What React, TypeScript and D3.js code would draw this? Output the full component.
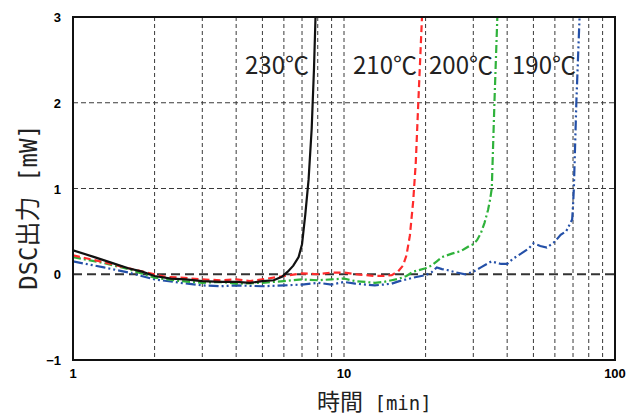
import { useEffect, useRef } from "react";
import * as d3 from "d3";

// time [min] / DSC output [mW]
const t230 = [1, 1.2, 1.4, 1.6, 1.8, 2, 2.3, 2.6, 3, 3.5, 4, 4.5, 5, 5.5, 5.9, 6.2, 6.5, 6.8, 7.0, 7.2, 7.4, 7.6, 7.75, 7.85];
const v230 = [0.28, 0.2, 0.13, 0.07, 0.03, -0.02, -0.05, -0.06, -0.08, -0.09, -0.09, -0.1, -0.08, -0.07, -0.03, 0.03, 0.1, 0.2, 0.35, 0.7, 1.1, 1.7, 2.4, 3.0];

const t210 = [1, 1.3, 1.6, 2, 2.2, 2.5, 3, 3.5, 4, 4.5, 5, 6, 7, 8, 9, 10, 11, 12, 13, 14, 15, 15.8, 16.5, 17, 17.5, 18, 18.4, 18.8, 19.1, 19.4];
const v210 = [0.22, 0.14, 0.07, 0.0, -0.03, -0.04, -0.06, -0.07, -0.06, -0.08, -0.06, -0.02, 0.01, 0.0, 0.02, 0.02, 0.0, -0.01, -0.02, -0.02, -0.01, 0.03, 0.1, 0.22, 0.45, 0.85, 1.3, 2.0, 2.5, 3.0];

const t200 = [1, 1.3, 1.6, 2, 2.5, 3, 3.5, 4, 5, 6, 7, 8, 9, 10, 11, 12, 13, 14, 15, 16, 17, 18, 20, 21, 22, 23, 25, 27, 28, 29, 30, 31, 32, 33, 34, 34.6, 35.1, 35.9, 36.8];
const v200 = [0.2, 0.13, 0.06, -0.04, -0.08, -0.1, -0.09, -0.11, -0.1, -0.08, -0.06, -0.07, -0.06, -0.05, -0.08, -0.09, -0.1, -0.09, -0.07, -0.05, -0.02, 0.03, 0.07, 0.1, 0.15, 0.2, 0.24, 0.27, 0.3, 0.33, 0.35, 0.4, 0.48, 0.6, 0.75, 0.87, 1.0, 2.0, 3.0];

const t190 = [1, 1.3, 1.6, 2, 2.5, 3, 3.5, 4, 5, 6, 7, 8, 9, 10, 11, 12, 13, 14, 15, 16, 17, 18, 20, 21, 22, 23, 24, 26, 28, 30, 32, 35, 38, 40, 42, 45, 48, 50, 53, 56, 60, 63, 66, 68, 69.5, 70, 70.5, 72, 74];
const v190 = [0.15, 0.08, 0.02, -0.06, -0.1, -0.13, -0.14, -0.13, -0.14, -0.13, -0.12, -0.1, -0.12, -0.09, -0.11, -0.12, -0.13, -0.12, -0.11, -0.08, -0.06, -0.04, -0.01, 0.02, 0.08, 0.06, 0.05, 0.02, 0.0, 0.03, 0.08, 0.15, 0.12, 0.12, 0.18, 0.24, 0.3, 0.36, 0.33, 0.31, 0.38, 0.46, 0.5, 0.58, 0.64, 0.8, 1.0, 2.0, 3.0];

const labels = ["230℃", "210℃", "200℃", "190℃"];
const labelX = [245, 353, 429, 512];

const minorTicks = [2, 3, 4, 5, 6, 7, 8, 9, 10, 20, 30, 40, 50, 60, 70, 80, 90];
const yTicks = [-1, 0, 1, 2, 3];
const xTicks = [1, 10, 100];

const App = () => {
  const ref = useRef<SVGSVGElement>(null);

  useEffect(() => {
    const svg = d3.select(ref.current);
    svg.selectAll("*").remove();

    const left = 73, right = 615, top = 17, bottom = 360;
    const x = d3.scaleLog().domain([1, 100]).range([left, right]);
    const y = d3.scaleLinear().domain([-1, 3]).range([bottom, top]);

    svg
      .append("defs")
      .append("clipPath")
      .attr("id", "plot-clip")
      .append("rect")
      .attr("x", left)
      .attr("y", top)
      .attr("width", right - left)
      .attr("height", bottom - top);

    // grid
    svg
      .selectAll("line.vgrid")
      .data(minorTicks)
      .enter()
      .append("line")
      .attr("x1", (d) => x(d))
      .attr("x2", (d) => x(d))
      .attr("y1", top)
      .attr("y2", bottom)
      .attr("stroke", "#3a3a3a")
      .attr("stroke-width", 1)
      .attr("stroke-dasharray", "4,3");

    svg
      .selectAll("line.hgrid")
      .data([1, 2])
      .enter()
      .append("line")
      .attr("x1", left)
      .attr("x2", right)
      .attr("y1", (d) => y(d))
      .attr("y2", (d) => y(d))
      .attr("stroke", "#3a3a3a")
      .attr("stroke-width", 1)
      .attr("stroke-dasharray", "5,3");

    svg
      .append("line")
      .attr("x1", left)
      .attr("x2", right)
      .attr("y1", y(0))
      .attr("y2", y(0))
      .attr("stroke", "#333")
      .attr("stroke-width", 2)
      .attr("stroke-dasharray", "9,5");

    // curves
    const series = [
      { t: t190, v: v190, color: "#2450a8", dash: "10,3,2,3,2,3" },
      { t: t200, v: v200, color: "#2fb23b", dash: "8,3,2,3" },
      { t: t210, v: v210, color: "#ff2b2b", dash: "7,4" },
      { t: t230, v: v230, color: "#111", dash: null },
    ];

    const line = d3
      .line<[number, number]>()
      .x((d) => x(d[0]))
      .y((d) => y(d[1]));

    const g = svg.append("g").attr("clip-path", "url(#plot-clip)");
    series.forEach((s) => {
      g.append("path")
        .attr("d", line(s.t.map((tt, i) => [tt, s.v[i]] as [number, number])))
        .attr("fill", "none")
        .attr("stroke", s.color)
        .attr("stroke-width", 2.2)
        .attr("stroke-dasharray", s.dash);
    });

    // frame
    svg
      .append("rect")
      .attr("x", left)
      .attr("y", top)
      .attr("width", right - left)
      .attr("height", bottom - top)
      .attr("fill", "none")
      .attr("stroke", "#111")
      .attr("stroke-width", 2);

    // tick labels
    svg
      .selectAll("text.ytick")
      .data(yTicks)
      .enter()
      .append("text")
      .attr("x", left - 12)
      .attr("y", (d) => y(d) + 5)
      .attr("text-anchor", "end")
      .style("font-family", "'Liberation Sans', Arial, sans-serif")
      .style("font-weight", "bold")
      .style("font-size", "13px")
      .text((d) => (d < 0 ? "\u2212" + Math.abs(d) : String(d)));

    svg
      .selectAll("text.xtick")
      .data(xTicks)
      .enter()
      .append("text")
      .attr("x", (d) => x(d))
      .attr("y", 378)
      .attr("text-anchor", "middle")
      .style("font-family", "'Liberation Sans', Arial, sans-serif")
      .style("font-weight", "bold")
      .style("font-size", "13px")
      .text((d) => String(d));

    // temperature labels
    svg
      .selectAll("text.temp")
      .data(labels)
      .enter()
      .append("text")
      .attr("x", (d, i) => labelX[i])
      .attr("y", 74)
      .style("font-family", "'Noto Sans CJK JP', sans-serif")
      .style("font-size", "24px")
      .attr("fill", "#222")
      .text((d) => d);

    // axis titles
    const xt = svg
      .append("text")
      .attr("x", 317)
      .attr("y", 410)
      .attr("fill", "#222");
    xt.append("tspan")
      .style("font-family", "'Noto Sans CJK JP', sans-serif")
      .style("font-size", "23px")
      .text("時間");
    xt.append("tspan")
      .style("font-family", "'DejaVu Sans Mono', monospace")
      .style("font-size", "19px")
      .text("\u00a0[min]");

    const yt = svg
      .append("text")
      .attr("transform", "translate(37,207) rotate(-90)")
      .attr("text-anchor", "middle")
      .attr("fill", "#222");
    yt.append("tspan")
      .style("font-family", "'DejaVu Sans Mono', monospace")
      .style("font-size", "24px")
      .text("DSC");
    yt.append("tspan")
      .style("font-family", "'Noto Sans CJK JP', sans-serif")
      .style("font-size", "25px")
      .text("出力");
    yt.append("tspan")
      .style("font-family", "'DejaVu Sans Mono', monospace")
      .style("font-size", "24px")
      .text("\u00a0[mW]");
  }, []);

  return (
    <svg
      ref={ref}
      width={628}
      height={416}
      style={{ position: "absolute", left: 0, top: 0, background: "#fff" }}
    />
  );
};

export default App;
